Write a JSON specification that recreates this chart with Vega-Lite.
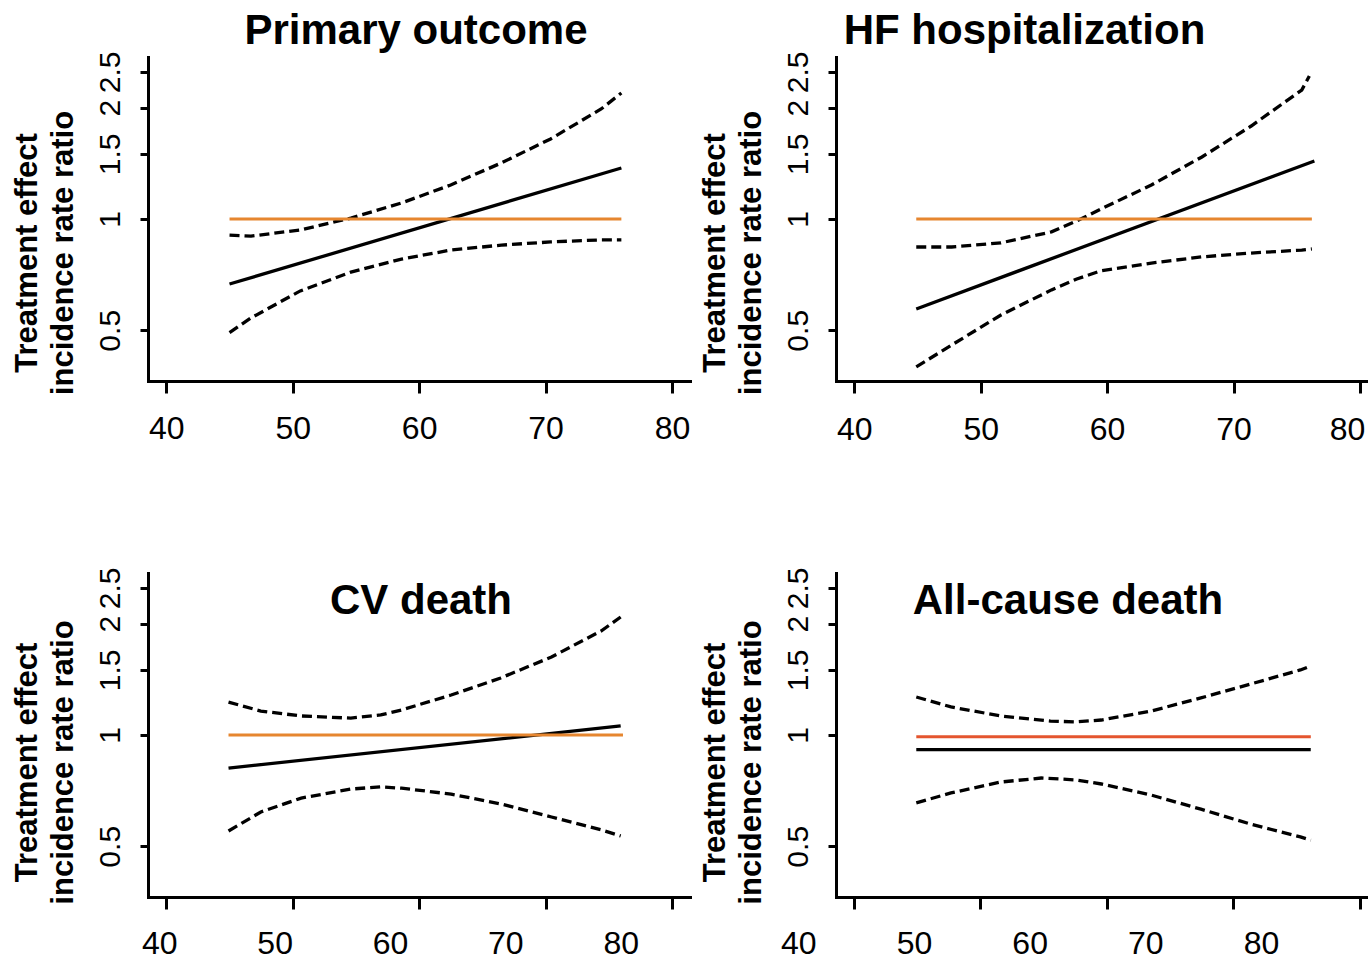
{
  "$schema": "https://vega.github.io/schema/vega-lite/v6.json",
  "background": "white",
  "padding": {"left": 11, "top": 10, "right": 0, "bottom": 0},
  "columns": 2,
  "spacing": {"row": 192, "column": 146},
  "bounds": "flush",
  "resolve": {
    "scale": {"x": "independent", "y": "independent"},
    "axis": {"x": "independent", "y": "independent"}
  },
  "datasets": {
    "primary": [
      {"age": 45, "irr": 1, "line": "null"},
      {"age": 76, "irr": 1, "line": "null"},
      {"age": 45, "irr": 0.667, "line": "estimate"},
      {"age": 76, "irr": 1.374, "line": "estimate"},
      {"age": 45, "irr": 0.905, "line": "upper"},
      {"age": 46.7, "irr": 0.899, "line": "upper"},
      {"age": 50.6, "irr": 0.934, "line": "upper"},
      {"age": 54.6, "irr": 1.006, "line": "upper"},
      {"age": 58.6, "irr": 1.105, "line": "upper"},
      {"age": 62.5, "irr": 1.236, "line": "upper"},
      {"age": 66.5, "irr": 1.418, "line": "upper"},
      {"age": 70.4, "irr": 1.647, "line": "upper"},
      {"age": 74.4, "irr": 1.985, "line": "upper"},
      {"age": 76, "irr": 2.193, "line": "upper"},
      {"age": 45, "irr": 0.493, "line": "lower"},
      {"age": 46.7, "irr": 0.54, "line": "lower"},
      {"age": 50.6, "irr": 0.639, "line": "lower"},
      {"age": 54.6, "irr": 0.718, "line": "lower"},
      {"age": 58.6, "irr": 0.779, "line": "lower"},
      {"age": 62.5, "irr": 0.824, "line": "lower"},
      {"age": 66.5, "irr": 0.85, "line": "lower"},
      {"age": 70.4, "irr": 0.867, "line": "lower"},
      {"age": 74.4, "irr": 0.878, "line": "lower"},
      {"age": 76, "irr": 0.878, "line": "lower"}
    ],
    "hf": [
      {"age": 44.9, "irr": 1, "line": "null"},
      {"age": 76.2, "irr": 1, "line": "null"},
      {"age": 44.9, "irr": 0.571, "line": "estimate"},
      {"age": 76.4, "irr": 1.436, "line": "estimate"},
      {"age": 44.9, "irr": 0.84, "line": "upper"},
      {"age": 47.7, "irr": 0.84, "line": "upper"},
      {"age": 51.6, "irr": 0.862, "line": "upper"},
      {"age": 55.6, "irr": 0.923, "line": "upper"},
      {"age": 57.6, "irr": 0.988, "line": "upper"},
      {"age": 59.5, "irr": 1.064, "line": "upper"},
      {"age": 63.5, "irr": 1.236, "line": "upper"},
      {"age": 67.5, "irr": 1.472, "line": "upper"},
      {"age": 71.4, "irr": 1.785, "line": "upper"},
      {"age": 75.4, "irr": 2.234, "line": "upper"},
      {"age": 76.0, "irr": 2.437, "line": "upper"},
      {"age": 44.9, "irr": 0.398, "line": "lower"},
      {"age": 47.7, "irr": 0.456, "line": "lower"},
      {"age": 51.6, "irr": 0.55, "line": "lower"},
      {"age": 55.6, "irr": 0.643, "line": "lower"},
      {"age": 57.6, "irr": 0.688, "line": "lower"},
      {"age": 59.5, "irr": 0.724, "line": "lower"},
      {"age": 63.5, "irr": 0.76, "line": "lower"},
      {"age": 67.5, "irr": 0.79, "line": "lower"},
      {"age": 71.4, "irr": 0.809, "line": "lower"},
      {"age": 75.4, "irr": 0.824, "line": "lower"},
      {"age": 76.2, "irr": 0.83, "line": "lower"}
    ],
    "cv": [
      {"age": 46.0, "irr": 1, "line": "null"},
      {"age": 80.2, "irr": 1, "line": "null"},
      {"age": 46.0, "irr": 0.814, "line": "estimate"},
      {"age": 80.0, "irr": 1.058, "line": "estimate"},
      {"age": 46.0, "irr": 1.228, "line": "upper"},
      {"age": 48.8, "irr": 1.161, "line": "upper"},
      {"age": 52.3, "irr": 1.126, "line": "upper"},
      {"age": 56.6, "irr": 1.111, "line": "upper"},
      {"age": 59.2, "irr": 1.133, "line": "upper"},
      {"age": 61.0, "irr": 1.169, "line": "upper"},
      {"age": 65.3, "irr": 1.283, "line": "upper"},
      {"age": 69.6, "irr": 1.427, "line": "upper"},
      {"age": 74.0, "irr": 1.626, "line": "upper"},
      {"age": 78.3, "irr": 1.912, "line": "upper"},
      {"age": 80.0, "irr": 2.086, "line": "upper"},
      {"age": 46.0, "irr": 0.55, "line": "lower"},
      {"age": 48.8, "irr": 0.619, "line": "lower"},
      {"age": 52.3, "irr": 0.675, "line": "lower"},
      {"age": 56.6, "irr": 0.714, "line": "lower"},
      {"age": 59.2, "irr": 0.724, "line": "lower"},
      {"age": 61.0, "irr": 0.718, "line": "lower"},
      {"age": 65.3, "irr": 0.692, "line": "lower"},
      {"age": 69.6, "irr": 0.651, "line": "lower"},
      {"age": 74.0, "irr": 0.6, "line": "lower"},
      {"age": 78.3, "irr": 0.554, "line": "lower"},
      {"age": 80.0, "irr": 0.533, "line": "lower"}
    ],
    "allcause": [
      {"age": 50.2, "irr": 0.99, "line": "null"},
      {"age": 84.3, "irr": 0.99, "line": "null"},
      {"age": 50.2, "irr": 0.913, "line": "estimate"},
      {"age": 84.3, "irr": 0.913, "line": "estimate"},
      {"age": 50.2, "irr": 1.267, "line": "upper"},
      {"age": 53.2, "irr": 1.191, "line": "upper"},
      {"age": 57.5, "irr": 1.126, "line": "upper"},
      {"age": 61.8, "irr": 1.091, "line": "upper"},
      {"age": 64.0, "irr": 1.085, "line": "upper"},
      {"age": 66.2, "irr": 1.098, "line": "upper"},
      {"age": 70.5, "irr": 1.161, "line": "upper"},
      {"age": 74.8, "irr": 1.26, "line": "upper"},
      {"age": 79.1, "irr": 1.374, "line": "upper"},
      {"age": 83.4, "irr": 1.5, "line": "upper"},
      {"age": 84.3, "irr": 1.538, "line": "upper"},
      {"age": 50.2, "irr": 0.655, "line": "lower"},
      {"age": 53.2, "irr": 0.697, "line": "lower"},
      {"age": 57.5, "irr": 0.746, "line": "lower"},
      {"age": 61.0, "irr": 0.765, "line": "lower"},
      {"age": 64.0, "irr": 0.756, "line": "lower"},
      {"age": 66.2, "irr": 0.737, "line": "lower"},
      {"age": 70.5, "irr": 0.688, "line": "lower"},
      {"age": 74.8, "irr": 0.63, "line": "lower"},
      {"age": 79.1, "irr": 0.574, "line": "lower"},
      {"age": 83.4, "irr": 0.53, "line": "lower"},
      {"age": 84.3, "irr": 0.519, "line": "lower"}
    ]
  },
  "concat": [
    {
      "width": 542,
      "height": 324,
      "data": {"name": "primary"},
      "title": {"text": "Primary outcome", "offset": -2, "dx": -3},
      "resolve": {"axis": {"x": "independent"}},
      "encoding": {
        "y": {
          "field": "irr", "type": "quantitative",
          "scale": {"type": "log", "domain": [0.3645, 2.744], "nice": false},
          "axis": {
            "values": [0.5, 1, 1.5, 2, 2.5], "format": "~g", "labelFontSize": 30,
            "tickSize": 8, "labelPadding": 21, "labelAngle": 270,
            "labelAlign": "center", "labelBaseline": "alphabetic",
            "title": ["Treatment effect", "incidence rate ratio"],
            "titleAngle": 270, "titleAlign": "center", "titleBaseline": "alphabetic",
            "titleX": -112, "titleY": 195.5
          }
        }
      },
      "layer": [
        {
          "transform": [{"filter": "datum.line === 'upper' || datum.line === 'lower'"}],
          "mark": {"type": "line", "color": "black", "strokeWidth": 3.3, "strokeDash": [10, 5], "strokeCap": "butt"},
          "encoding": {
            "x": {
              "field": "age", "type": "quantitative",
              "scale": {"domain": [38.55, 81.43], "nice": false, "zero": false},
              "axis": {"orient": "bottom", "values": [40, 50, 60, 70, 80], "format": "d", "tickSize": 12, "labelPadding": 45, "labelBaseline": "alphabetic", "labelFlush": false, "title": null}
            },
            "detail": {"field": "line"}
          }
        },
        {
          "transform": [{"filter": "datum.line === 'estimate'"}],
          "mark": {"type": "line", "color": "black", "strokeWidth": 3.3},
          "encoding": {"x": {"field": "age", "type": "quantitative", "scale": {"domain": [38.55, 81.43], "nice": false, "zero": false}, "axis": null}}
        },
        {
          "transform": [{"filter": "datum.line === 'null'"}],
          "mark": {"type": "line", "color": "#E6862F", "strokeWidth": 3},
          "encoding": {"x": {"field": "age", "type": "quantitative", "scale": {"domain": [38.55, 81.43], "nice": false, "zero": false}, "axis": null}}
        }
      ]
    },
    {
      "width": 533,
      "height": 324,
      "data": {"name": "hf"},
      "title": {"text": "HF hospitalization", "offset": -2, "dx": -78},
      "resolve": {"axis": {"x": "independent"}},
      "encoding": {
        "y": {
          "field": "irr", "type": "quantitative",
          "scale": {"type": "log", "domain": [0.3645, 2.744], "nice": false},
          "axis": {
            "values": [0.5, 1, 1.5, 2, 2.5], "format": "~g", "labelFontSize": 30,
            "tickSize": 8, "labelPadding": 21, "labelAngle": 270,
            "labelAlign": "center", "labelBaseline": "alphabetic",
            "title": ["Treatment effect", "incidence rate ratio"],
            "titleAngle": 270, "titleAlign": "center", "titleBaseline": "alphabetic",
            "titleX": -112, "titleY": 195.5
          }
        }
      },
      "layer": [
        {
          "transform": [{"filter": "datum.line === 'upper' || datum.line === 'lower'"}],
          "mark": {"type": "line", "color": "black", "strokeWidth": 3.3, "strokeDash": [10, 5], "strokeCap": "butt"},
          "encoding": {
            "x": {
              "field": "age", "type": "quantitative",
              "scale": {"domain": [38.55, 80.72], "nice": false, "zero": false},
              "axis": {"orient": "bottom", "values": [40, 50, 60, 70, 80], "format": "d", "tickSize": 12, "labelPadding": 46, "labelBaseline": "alphabetic", "labelFlush": 12, "labelFlushOffset": 5, "title": null}
            },
            "detail": {"field": "line"}
          }
        },
        {
          "transform": [{"filter": "datum.line === 'estimate'"}],
          "mark": {"type": "line", "color": "black", "strokeWidth": 3.3},
          "encoding": {"x": {"field": "age", "type": "quantitative", "scale": {"domain": [38.55, 80.72], "nice": false, "zero": false}, "axis": null}}
        },
        {
          "transform": [{"filter": "datum.line === 'null'"}],
          "mark": {"type": "line", "color": "#E6862F", "strokeWidth": 3},
          "encoding": {"x": {"field": "age", "type": "quantitative", "scale": {"domain": [38.55, 80.72], "nice": false, "zero": false}, "axis": null}}
        }
      ]
    },
    {
      "width": 542,
      "height": 324,
      "data": {"name": "cv"},
      "title": {"text": "CV death", "offset": -56, "dx": 2},
      "resolve": {"axis": {"x": "independent"}},
      "encoding": {
        "y": {
          "field": "irr", "type": "quantitative",
          "scale": {"type": "log", "domain": [0.3645, 2.744], "nice": false},
          "axis": {
            "values": [0.5, 1, 1.5, 2, 2.5], "format": "~g", "labelFontSize": 30,
            "tickSize": 8, "labelPadding": 21, "labelAngle": 270,
            "labelAlign": "center", "labelBaseline": "alphabetic",
            "title": ["Treatment effect", "incidence rate ratio"],
            "titleAngle": 270, "titleAlign": "center", "titleBaseline": "alphabetic",
            "titleX": -112, "titleY": 189
          }
        }
      },
      "layer": [
        {
          "transform": [{"filter": "datum.line === 'upper' || datum.line === 'lower'"}],
          "mark": {"type": "line", "color": "black", "strokeWidth": 3.3, "strokeDash": [10, 5], "strokeCap": "butt"},
          "encoding": {
            "x": {
              "field": "age", "type": "quantitative",
              "scale": {"domain": [39.02, 86.01], "nice": false, "zero": false},
              "axis": {"orient": "bottom", "values": [40.62, 51.58, 62.54, 73.49, 84.45], "labels": false, "tickSize": 12, "title": null}
            },
            "detail": {"field": "line"}
          }
        },
        {
          "transform": [{"filter": "datum.line === 'estimate'"}],
          "mark": {"type": "line", "color": "black", "strokeWidth": 3.3},
          "encoding": {
            "x": {
              "field": "age", "type": "quantitative",
              "scale": {"domain": [39.02, 86.01], "nice": false, "zero": false},
              "axis": {"orient": "bottom", "values": [40, 50, 60, 70, 80], "format": "d", "ticks": false, "tickSize": 0, "domain": false, "labelPadding": 56, "labelBaseline": "alphabetic", "labelFlush": false, "title": null}
            }
          }
        },
        {
          "transform": [{"filter": "datum.line === 'null'"}],
          "mark": {"type": "line", "color": "#E6862F", "strokeWidth": 3},
          "encoding": {"x": {"field": "age", "type": "quantitative", "scale": {"domain": [39.02, 86.01], "nice": false, "zero": false}, "axis": null}}
        }
      ]
    },
    {
      "width": 533,
      "height": 324,
      "data": {"name": "allcause"},
      "title": {"text": "All-cause death", "offset": -56, "dx": -34.5},
      "resolve": {"scale": {"x": "independent"}, "axis": {"x": "independent"}},
      "encoding": {
        "y": {
          "field": "irr", "type": "quantitative",
          "scale": {"type": "log", "domain": [0.3645, 2.744], "nice": false},
          "axis": {
            "values": [0.5, 1, 1.5, 2, 2.5], "format": "~g", "labelFontSize": 30,
            "tickSize": 8, "labelPadding": 21, "labelAngle": 270,
            "labelAlign": "center", "labelBaseline": "alphabetic",
            "title": ["Treatment effect", "incidence rate ratio"],
            "titleAngle": 270, "titleAlign": "center", "titleBaseline": "alphabetic",
            "titleX": -112, "titleY": 189
          }
        }
      },
      "layer": [
        {
          "transform": [{"filter": "datum.line === 'upper' || datum.line === 'lower'"}],
          "mark": {"type": "line", "color": "black", "strokeWidth": 3.3, "strokeDash": [10, 5], "strokeCap": "butt"},
          "encoding": {
            "x": {
              "field": "age", "type": "quantitative",
              "scale": {"domain": [43.26, 89.33], "nice": false, "zero": false},
              "axis": {"orient": "bottom", "values": [44.82, 55.74, 66.67, 77.6, 88.52], "labels": false, "tickSize": 12, "title": null}
            },
            "detail": {"field": "line"}
          }
        },
        {
          "transform": [{"filter": "datum.line === 'estimate'"}],
          "mark": {"type": "line", "color": "black", "strokeWidth": 3.3},
          "encoding": {
            "x": {
              "field": "age", "type": "quantitative",
              "scale": {"domain": [40, 80], "range": [-37.7, 425], "nice": false, "zero": false},
              "axis": {"orient": "bottom", "values": [40, 50, 60, 70, 80], "format": "d", "ticks": false, "tickSize": 0, "domain": false, "labelPadding": 56, "labelBaseline": "alphabetic", "labelFlush": false, "title": null}
            }
          }
        },
        {
          "transform": [{"filter": "datum.line === 'null'"}],
          "mark": {"type": "line", "color": "#E4552E", "strokeWidth": 3},
          "encoding": {"x": {"field": "age", "type": "quantitative", "scale": {"domain": [43.26, 89.33], "nice": false, "zero": false}, "axis": null}}
        }
      ]
    }
  ],
  "config": {
    "font": "Liberation Sans",
    "view": {"stroke": null},
    "axis": {
      "grid": false,
      "domainColor": "black",
      "domainWidth": 3,
      "domainCap": "square",
      "tickColor": "black",
      "tickWidth": 3,
      "labelColor": "black",
      "labelFont": "Liberation Sans",
      "labelFontSize": 32,
      "labelOverlap": false,
      "labelBound": false,
      "titleColor": "black",
      "titleFont": "Liberation Sans",
      "titleFontSize": 31,
      "titleFontWeight": "bold",
      "titleLineHeight": 36
    },
    "title": {
      "font": "Liberation Sans",
      "fontSize": 42,
      "fontWeight": "bold",
      "color": "black",
      "anchor": "middle",
      "frame": "group",
      "baseline": "alphabetic"
    }
  }
}
